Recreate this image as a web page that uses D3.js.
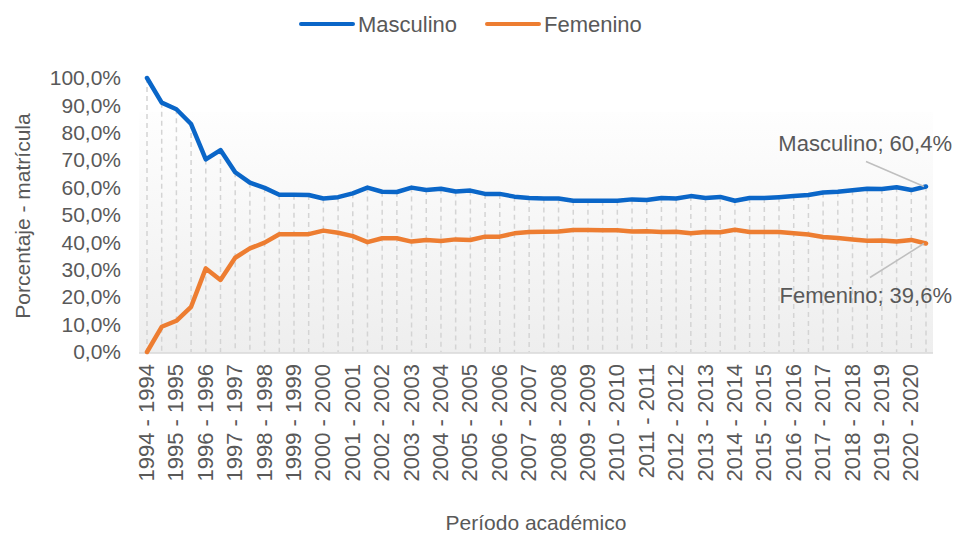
<!DOCTYPE html>
<html>
<head>
<meta charset="utf-8">
<script src="https://cdn.jsdelivr.net/npm/d3@7"></script>
<style>
  body { margin: 0; background: #fff; }
  text { font-family: "Liberation Sans", Arial, sans-serif; fill: #595959; }
</style>
</head>
<body>
<div class="lineChart"></div>
<script>
// años académicos (dos períodos por año)
var anios = [1994, 1995, 1996, 1997, 1998, 1999, 2000, 2001, 2002, 2003, 2004, 2005, 2006, 2007,
             2008, 2009, 2010, 2011, 2012, 2013, 2014, 2015, 2016, 2017, 2018, 2019, 2020];
var periodos = anios.flatMap(function (a) { return [a + "-1", a + "-2"]; });

var masculino = [100.0, 91.0, 88.6, 83.2, 70.3, 73.7, 65.6, 61.8, 59.9, 57.4, 57.4, 57.3, 56.0, 56.5,
                 57.9, 60.0, 58.5, 58.4, 60.0, 59.1, 59.6, 58.6, 58.9, 57.7, 57.7, 56.7, 56.2, 56.0,
                 56.0, 55.2, 55.2, 55.2, 55.2, 55.7, 55.5, 56.2, 56.0, 56.9, 56.2, 56.6, 55.2, 56.2,
                 56.2, 56.5, 56.9, 57.3, 58.2, 58.5, 59.0, 59.6, 59.5, 60.1, 59.1, 60.4];
var femenino  = [0.0, 9.2, 11.4, 16.5, 30.5, 26.3, 34.4, 37.8, 39.9, 43.0, 43.0, 43.0, 44.3, 43.5,
                 42.3, 40.1, 41.5, 41.5, 40.3, 40.9, 40.5, 41.1, 40.9, 42.1, 42.1, 43.3, 43.8, 43.9,
                 44.0, 44.5, 44.5, 44.4, 44.4, 44.0, 44.1, 43.8, 43.9, 43.3, 43.8, 43.7, 44.6, 43.8,
                 43.8, 43.8, 43.3, 42.9, 42.0, 41.6, 41.1, 40.6, 40.7, 40.3, 40.9, 39.6];
var yTicks = [0, 10, 20, 30, 40, 50, 60, 70, 80, 90, 100];

var width = 955, height = 533;

var svg = d3.select(".lineChart").append("svg")
    .attr("width", width)
    .attr("height", height);

var x = d3.scalePoint().domain(periodos).range([147, 926]);
var y = d3.scaleLinear().domain([0, 100]).range([352, 78]);

var fmt = function (d) { return d3.format(".1f")(d).replace(".", ",") + "%"; };

// fondo degradado del área de trazado
var defs = svg.append("defs");
var grad = defs.append("linearGradient").attr("id", "fondo")
    .attr("x1", 0).attr("y1", 0).attr("x2", 0).attr("y2", 1);
grad.append("stop").attr("offset", "0%").attr("stop-color", "#fefefe");
grad.append("stop").attr("offset", "100%").attr("stop-color", "#eeeeee");

svg.append("rect")
    .attr("x", 139).attr("y", 112)
    .attr("width", 794).attr("height", 241)
    .attr("fill", "url(#fondo)");

// líneas de proyección
svg.append("g").selectAll("line")
    .data(periodos)
    .enter().append("line")
    .attr("x1", function (d) { return x(d); })
    .attr("x2", function (d) { return x(d); })
    .attr("y1", function (d, i) { return y(Math.max(masculino[i], femenino[i])); })
    .attr("y2", y(0))
    .attr("stroke", "#d4d4d4")
    .attr("stroke-width", 1.5)
    .attr("stroke-dasharray", "5,4");

// eje x
svg.append("line")
    .attr("x1", 139).attr("x2", 933)
    .attr("y1", y(0) + 1).attr("y2", y(0) + 1)
    .attr("stroke", "#d9d9d9").attr("stroke-width", 1.5);

svg.append("g").selectAll("text")
    .data(periodos.filter(function (d, i) { return i % 2 === 0; }))
    .enter().append("text")
    .attr("transform", function (d) { return "translate(" + (x(d) + 7) + ",364) rotate(-90)"; })
    .attr("text-anchor", "end")
    .style("font-size", "22px")
    .text(function (d) { var a = d.split("-")[0]; return a + " - " + a; });

// eje y
var yAxis = svg.append("g")
    .attr("transform", "translate(124,0)")
    .call(d3.axisLeft(y).tickValues(yTicks).tickFormat(fmt).tickSize(0));
yAxis.select(".domain").remove();
yAxis.selectAll("text")
    .attr("fill", "#595959")
    .style("font-family", "Liberation Sans, Arial, sans-serif")
    .style("font-size", "21px");

// series
var series = [
    { name: "Masculino", values: masculino, color: "#0a66c8" },
    { name: "Femenino", values: femenino, color: "#ed7d31" }
];

var line = d3.line()
    .x(function (d, i) { return x(periodos[i]); })
    .y(function (d) { return y(d); });

svg.selectAll(".serie")
    .data(series)
    .enter().append("path")
    .attr("class", "serie")
    .attr("d", function (d) { return line(d.values); })
    .attr("fill", "none")
    .attr("stroke", function (d) { return d.color; })
    .attr("stroke-width", 4.5)
    .attr("stroke-linejoin", "round")
    .attr("stroke-linecap", "round");

// etiquetas de datos del último período
var last = periodos[periodos.length - 1];
var mLast = masculino[masculino.length - 1], fLast = femenino[femenino.length - 1];

svg.append("line")
    .attr("x1", x(last) - 60).attr("y1", y(mLast) - 25)
    .attr("x2", x(last) - 2).attr("y2", y(mLast))
    .attr("stroke", "#bfbfbf").attr("stroke-width", 1.5);
svg.append("text")
    .attr("x", 952).attr("y", y(mLast) - 36)
    .attr("text-anchor", "end")
    .style("font-size", "22px")
    .text("Masculino; " + fmt(mLast));

svg.append("line")
    .attr("x1", x(last) - 56).attr("y1", y(fLast) + 34)
    .attr("x2", x(last) - 2).attr("y2", y(fLast))
    .attr("stroke", "#bfbfbf").attr("stroke-width", 1.5);
svg.append("text")
    .attr("x", 952).attr("y", y(fLast) + 60)
    .attr("text-anchor", "end")
    .style("font-size", "22px")
    .text("Femenino; " + fmt(fLast));

// títulos de ejes
svg.append("text")
    .attr("transform", "translate(30,216) rotate(-90)")
    .attr("text-anchor", "middle")
    .style("font-size", "21px")
    .text("Porcentaje - matrícula");

svg.append("text")
    .attr("x", 536).attr("y", 530)
    .attr("text-anchor", "middle")
    .style("font-size", "21px")
    .text("Período académico");

// leyenda
var legend = svg.append("g").selectAll("g")
    .data(series)
    .enter().append("g")
    .attr("transform", function (d, i) { return "translate(" + (301 + i * 186) + ",24)"; });
legend.append("line")
    .attr("x1", 0).attr("x2", 52)
    .attr("stroke", function (d) { return d.color; })
    .attr("stroke-width", 4)
    .attr("stroke-linecap", "round");
legend.append("text")
    .attr("x", 57).attr("y", 8)
    .style("font-size", "22px")
    .text(function (d) { return d.name; });
</script>
</body>
</html>
